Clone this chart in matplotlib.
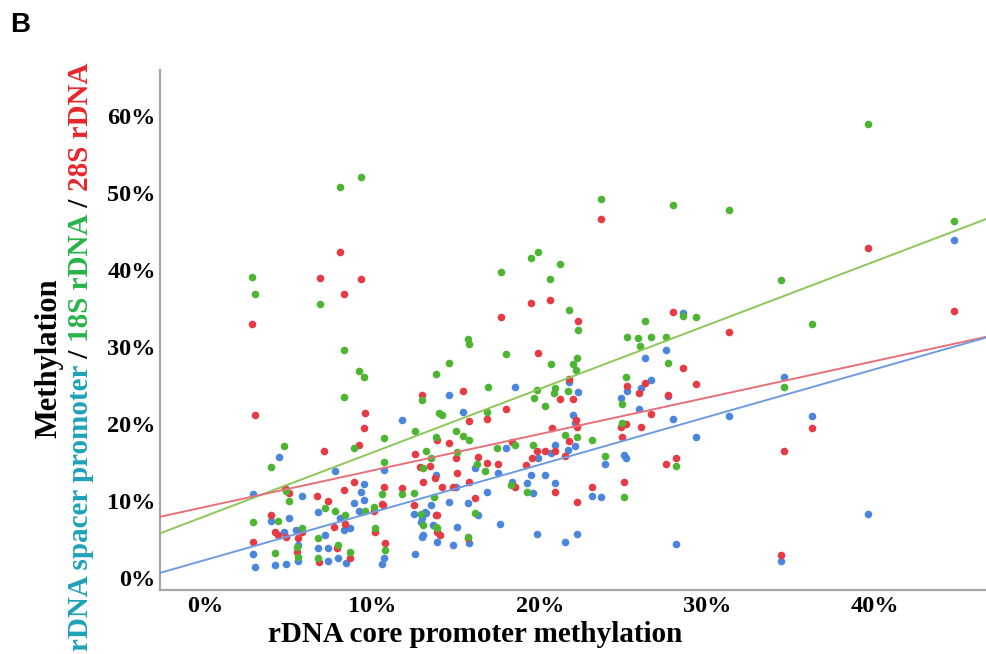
import matplotlib
matplotlib.use("Agg")
import matplotlib.pyplot as plt
from matplotlib.ticker import PercentFormatter
import numpy as np

# methylation values in percent
blue_x = [44.72, 34.57, 31.28, 36.24, 29.31, 39.58, 34.39, 28.54,
          11.76, 4.42, 7.76, 10.69, 13.79, 9.49, 9.31, 2.87, 5.79, 9.49, 8.90, 6.75,
          9.19, 12.48, 12.96, 13.19, 12.90, 12.96, 13.85, 3.94, 5.01, 8.06, 8.30, 8.66,
          5.43, 4.72, 7.16, 5.55, 2.87, 5.55, 6.75, 7.34, 7.34, 7.94, 8.42, 2.99, 4.18,
          4.84, 10.69, 10.57, 12.54,
          26.27, 27.52, 14.57, 18.51, 21.73, 22.27, 15.40, 16.12, 17.49, 17.97, 19.88,
          20.66, 20.90, 21.67, 22.09, 22.09, 21.97, 23.88, 25.01, 25.13, 24.84, 25.19,
          26.03, 26.63, 25.91, 27.64, 27.94, 28.12, 23.10, 23.64, 22.21, 21.49, 19.82,
          20.90, 19.58, 19.22, 19.46, 20.30, 18.33, 17.61, 16.30, 16.84, 15.70, 14.57,
          14.99, 13.49, 13.13, 13.61, 13.01, 15.04, 14.81, 15.76]
blue_y = [43.9, 26.1, 21.0, 21.0, 18.3, 8.3, 2.2, 34.4,
          20.5, 15.7, 13.9, 14.0, 13.4, 12.2, 11.2, 10.9, 10.6, 10.1, 9.7, 8.6,
          8.7, 8.3, 7.8, 8.4, 7.3, 5.3, 4.7, 7.4, 7.7, 7.7, 6.2, 6.4,
          6.2, 6.0, 5.5, 4.3, 3.1, 2.2, 3.9, 3.9, 2.2, 2.6, 1.9, 1.4, 1.7,
          1.8, 2.5, 1.8, 3.1,
          28.6, 29.6, 23.8, 24.8, 25.5, 24.2, 21.6, 14.2, 13.6, 16.9, 15.6,
          16.2, 17.3, 16.6, 17.1, 20.1, 21.2, 14.8, 16.0, 15.5, 23.4, 24.3,
          24.7, 25.7, 21.9, 23.6, 20.6, 4.4, 10.6, 10.5, 5.7, 4.7, 5.7,
          12.3, 11.0, 12.3, 13.4, 13.4, 12.5, 7.0, 8.2, 11.2, 9.7, 9.9,
          11.8, 9.5, 8.6, 6.9, 5.5, 6.6, 4.3, 4.5]

green_x = [9.31, 8.06, 2.81, 2.99, 6.87,
           23.64, 27.94, 19.88, 19.46, 21.19, 17.67, 20.60, 21.73, 22.27, 28.54, 29.31,
           26.27, 25.19, 25.85, 26.63, 27.52, 15.70,
           39.58, 31.28, 44.72, 34.39, 36.24, 34.57,
           8.30, 9.19, 9.49, 13.79, 8.30, 12.96, 13.97, 12.54, 10.69, 13.79, 8.90, 4.72,
           3.94, 10.69, 13.19, 13.01, 4.84, 5.01, 7.16, 7.76, 9.55, 10.09, 10.57, 11.76,
           12.48, 12.90, 13.01, 13.79, 4.36, 2.87, 8.36, 10.15, 5.79, 6.75, 10.75, 4.18,
           5.49, 5.55, 7.94, 6.75, 8.66,
           15.76, 17.97, 25.97, 14.57, 20.66, 21.97, 22.21, 22.15, 27.64, 16.90, 19.82,
           19.64, 20.90, 20.84, 21.67, 20.30, 16.84, 14.99, 15.40, 15.76, 15.04, 16.24,
           16.72, 17.43, 18.51, 19.58, 21.49, 22.21, 23.10, 23.88, 24.90, 24.90, 25.13,
           28.12, 25.01, 19.22, 18.27, 16.12, 13.85, 15.70, 13.49, 13.67, 14.15]
green_y = [52.1, 50.8, 39.1, 36.9, 35.6,
           49.2, 48.4, 42.3, 41.6, 40.8, 39.7, 38.8, 34.8, 32.2, 34.0, 33.9,
           33.4, 31.3, 31.2, 31.3, 31.3, 31.0,
           59.0, 47.8, 46.4, 38.7, 33.0, 24.8,
           29.6, 26.9, 26.1, 26.5, 23.5, 23.1, 21.4, 19.1, 18.1, 18.3, 16.9, 17.1,
           14.4, 15.1, 16.5, 14.2, 11.3, 10.0, 9.1, 8.7, 8.7, 9.2, 10.9, 10.9,
           11.0, 8.3, 6.8, 6.6, 7.4, 7.3, 8.1, 6.4, 6.4, 5.1, 3.6, 3.2,
           4.0, 2.7, 4.2, 2.6, 3.4,
           30.4, 29.1, 30.1, 27.9, 27.8, 27.8, 28.6, 27.0, 27.9, 24.8, 24.4,
           23.4, 24.7, 24.0, 24.3, 22.3, 21.6, 19.1, 18.4, 17.9, 16.4, 14.8,
           13.9, 16.9, 17.3, 17.3, 18.6, 18.3, 17.9, 15.8, 20.1, 22.6, 26.1,
           14.5, 10.5, 11.2, 12.1, 8.4, 6.5, 5.3, 15.6, 10.5, 21.2]

red_x = [8.06, 6.87, 9.31, 8.30, 2.81,
         23.64, 19.46, 20.60, 17.67, 22.27, 27.94,
         39.58, 31.28, 44.72, 29.31, 36.24, 34.57, 34.39,
         12.96, 2.99, 9.55, 9.49, 9.19, 7.10, 12.54, 12.84, 13.43, 13.73, 8.90, 8.30,
         4.78, 5.01, 6.69, 7.34, 10.57, 10.69, 11.76, 10.63, 12.48, 13.85, 3.94, 7.70,
         8.36, 10.09, 10.15, 5.79, 4.18, 4.36, 4.84, 5.55, 2.87, 10.75, 5.49, 7.88,
         6.81, 8.66,
         19.88, 28.54, 15.40, 21.19, 21.73, 21.97, 17.97, 16.84, 15.76, 13.85, 14.57,
         14.99, 16.30, 16.84, 17.49, 18.33, 19.16, 19.52, 19.82, 20.30, 20.90, 20.72,
         21.73, 21.49, 22.15, 22.21, 24.90, 25.13, 24.84, 25.19, 25.91, 26.27, 26.63,
         26.03, 27.64, 27.52, 28.12, 25.01, 23.10, 22.21, 20.90, 18.51, 16.12, 14.15,
         14.81, 15.04, 15.76, 13.79, 13.85, 14.03, 15.70, 13.01]
red_y = [42.3, 39.0, 38.8, 36.9, 33.0,
         46.6, 35.7, 36.1, 33.9, 33.4, 34.5,
         42.9, 31.9, 34.7, 25.2, 19.4, 16.5, 3.0,
         23.8, 21.2, 21.4, 19.4, 17.3, 16.5, 16.1, 14.4, 14.5, 13.0, 12.5, 11.4,
         11.6, 11.0, 10.6, 10.0, 9.6, 11.8, 11.6, 9.4, 9.5, 8.1, 8.1, 6.6,
         7.0, 8.7, 6.0, 6.0, 6.0, 5.5, 5.3, 5.1, 4.7, 4.5, 3.4, 3.9,
         2.1, 2.6,
         29.2, 27.3, 24.3, 23.2, 25.8, 23.2, 21.9, 20.6, 20.4, 17.9, 17.5,
         15.6, 15.7, 14.9, 14.8, 17.7, 14.7, 15.5, 16.5, 16.5, 16.5, 19.4,
         17.8, 15.8, 20.5, 19.6, 18.3, 20.0, 19.6, 24.9, 24.0, 25.3, 21.3,
         19.6, 23.8, 14.8, 15.5, 12.5, 11.8, 9.9, 11.2, 11.8, 10.3, 11.8,
         11.8, 13.6, 12.5, 8.2, 6.0, 5.5, 5.1, 12.5]

# linear fit lines (intercept, slope)
fit_blue = (2.3, 0.620)
fit_green = (8.0, 0.828)
fit_red = (9.2, 0.474)

c_blue, c_green, c_red = "#4a86dc", "#4cb531", "#e63a44"
l_blue, l_green, l_red = "#6f9be0", "#8cc75a", "#e8707a"

serif = "Liberation Serif"
W, H = 987, 654

fig = plt.figure(figsize=(W / 100, H / 100), dpi=100)
ax = fig.add_axes([160 / W, 1 - 590 / H, 827 / W, 520 / H])

ax.scatter(blue_x, blue_y, s=30, color=c_blue, linewidths=0, zorder=2)
ax.scatter(red_x, red_y, s=30, color=c_red, linewidths=0, zorder=3)
ax.scatter(green_x, green_y, s=30, color=c_green, linewidths=0, zorder=4)

xlim = (-2.7, 46.7)
xs = np.array(xlim)
for (b, m), col in [(fit_green, l_green), (fit_red, l_red), (fit_blue, l_blue)]:
    ax.plot(xs, b + m * xs, color=col, lw=1.4, zorder=5)

ax.set_xlim(*xlim)
ax.set_ylim(-1.6, 66)
ax.set_xticks([0, 10, 20, 30, 40])
ax.set_yticks([0, 10, 20, 30, 40, 50, 60])
ax.xaxis.set_major_formatter(PercentFormatter(100, decimals=0))
ax.yaxis.set_major_formatter(PercentFormatter(100, decimals=0))
ax.tick_params(axis="x", length=0, pad=4, labelsize=17.5)
ax.tick_params(axis="y", length=0, pad=3, labelsize=17.5)
for lab in ax.get_xticklabels() + ax.get_yticklabels():
    lab.set_fontfamily(serif)
    lab.set_fontweight("bold")
for s in ["top", "right"]:
    ax.spines[s].set_visible(False)
for s in ["left", "bottom"]:
    ax.spines[s].set_color("#a6a6a6")
    ax.spines[s].set_linewidth(1.6)

fig.text(475 / W, 1 - 635 / H, "rDNA core promoter methylation", fontsize=21,
         fontweight="bold", family=serif, ha="center", va="center")

fig.text(10 / W, 1 - 25 / H, "B", fontsize=20, fontweight="bold",
         family="Liberation Sans", ha="left", va="center")

fig.text(49 / W, 1 - 358 / H, "Methylation", rotation=90, fontsize=22,
         fontweight="bold", family=serif, ha="center", va="center")

# multi-coloured second line of the y label, built bottom to top
parts = [("rDNA spacer promoter", "#1ea2b6"), (" / ", "black"),
         ("18S rDNA", "#28b34a"), (" / ", "black"), ("28S rDNA", "#e8262b")]
renderer = fig.canvas.get_renderer()
y = 1 - 651 / H
for txt, col in parts:
    t = fig.text(81 / W, y, txt, rotation=90, fontsize=21, fontweight="bold",
                 family=serif, color=col, ha="center", va="bottom")
    y += t.get_window_extent(renderer).height / H

fig.savefig("out.png", dpi=100)
